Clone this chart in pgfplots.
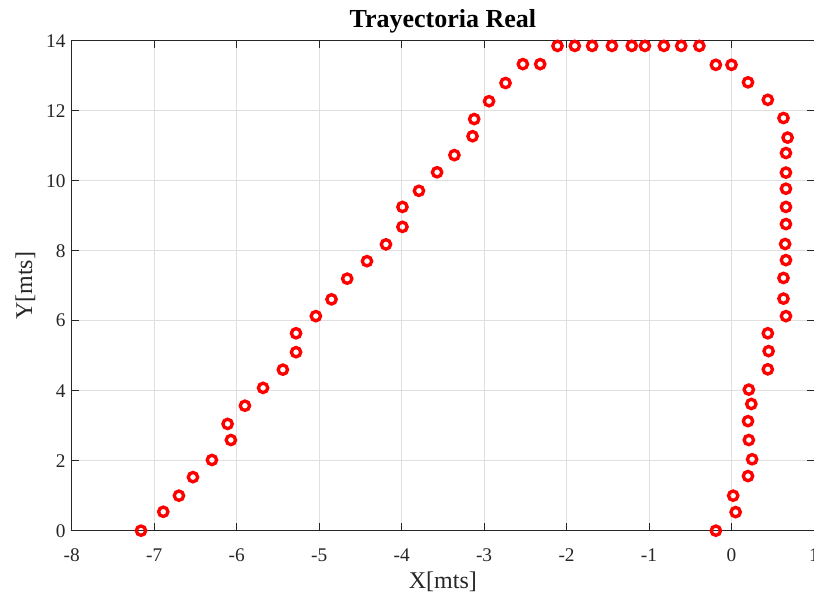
\documentclass[border=0pt]{standalone}
\usepackage{fontspec}
\setmainfont{Liberation Serif}
\usepackage{pgfplots}
\pgfplotsset{compat=1.18}
\usepackage{pgfplotstable}

\definecolor{axgray}{RGB}{38,38,38}
\definecolor{gridgray}{RGB}{223,223,223}

% measured trajectory, X and Y in metres
\pgfplotstableread{
x y
-7.16 0.00
-6.89 0.54
-6.70 1.00
-6.53 1.53
-6.30 2.02
-6.07 2.59
-6.11 3.05
-5.90 3.57
-5.68 4.08
-5.44 4.60
-5.28 5.10
-5.28 5.64
-5.04 6.13
-4.85 6.61
-4.66 7.20
-4.42 7.70
-4.19 8.18
-3.99 8.68
-3.99 9.25
-3.79 9.71
-3.57 10.24
-3.36 10.73
-3.14 11.27
-3.12 11.76
-2.94 12.27
-2.74 12.79
-2.53 13.33
-2.32 13.33
-2.11 13.85
-1.90 13.85
-1.69 13.85
-1.45 13.85
-1.21 13.85
-1.05 13.85
-0.82 13.85
-0.61 13.85
-0.39 13.85
-0.19 13.31
0.00 13.31
0.20 12.81
0.44 12.31
0.63 11.79
0.68 11.23
0.66 10.79
0.66 10.23
0.66 9.77
0.66 9.25
0.66 8.76
0.65 8.19
0.66 7.73
0.63 7.22
0.63 6.63
0.66 6.13
0.44 5.64
0.45 5.13
0.44 4.61
0.21 4.03
0.24 3.62
0.20 3.13
0.21 2.59
0.25 2.04
0.20 1.56
0.02 1.00
0.05 0.53
-0.19 0.00
}\trayectoria

\begin{document}
\begin{tikzpicture}
\begin{axis}[
  at={(0,0)}, anchor=south west,
  scale only axis,
  width=556.7pt, height=367.5pt,
  xmin=-8, xmax=1, ymin=0, ymax=14,
  xtick={-8,-7,...,1}, ytick={0,2,...,14},
  grid=major,
  major grid style={gridgray, line width=0.6pt},
  axis line style={axgray, line width=0.6pt},
  tick style={axgray, line width=0.6pt},
  tick align=inside,
  major tick length=5.5pt,
  /pgf/number format/assume math mode=true,
  ticklabel style={font=\fontsize{14.5}{17}\selectfont, text=axgray},
  xticklabel style={anchor=base, yshift=-23.25pt},
  yticklabel style={anchor=east, xshift=-1.2pt},
  title={Trayectoria Real},
  title style={at={(axis description cs:0.5,1)}, anchor=base, yshift=3.5pt,
    font=\bfseries\fontsize{19.5}{23}\selectfont},
  xlabel={X[mts]},
  xlabel style={at={(axis description cs:0.5,-0.117)}, anchor=base,
    font=\fontsize{18}{21}\selectfont, text=axgray},
  ylabel={Y[mts]},
  ylabel style={at={(axis description cs:-0.0535,0.5)}, anchor=base,
    font=\fontsize{18}{21}\selectfont, text=axgray},
  clip mode=individual,
]
\addplot[only marks, mark=o, red, mark size=3.5pt,
  mark options={line width=2.5pt}] table {\trayectoria};
\end{axis}
\pgfresetboundingbox
\useasboundingbox (-53.8pt,-49.7pt) rectangle (556.7pt,398pt);
\end{tikzpicture}
\end{document}
